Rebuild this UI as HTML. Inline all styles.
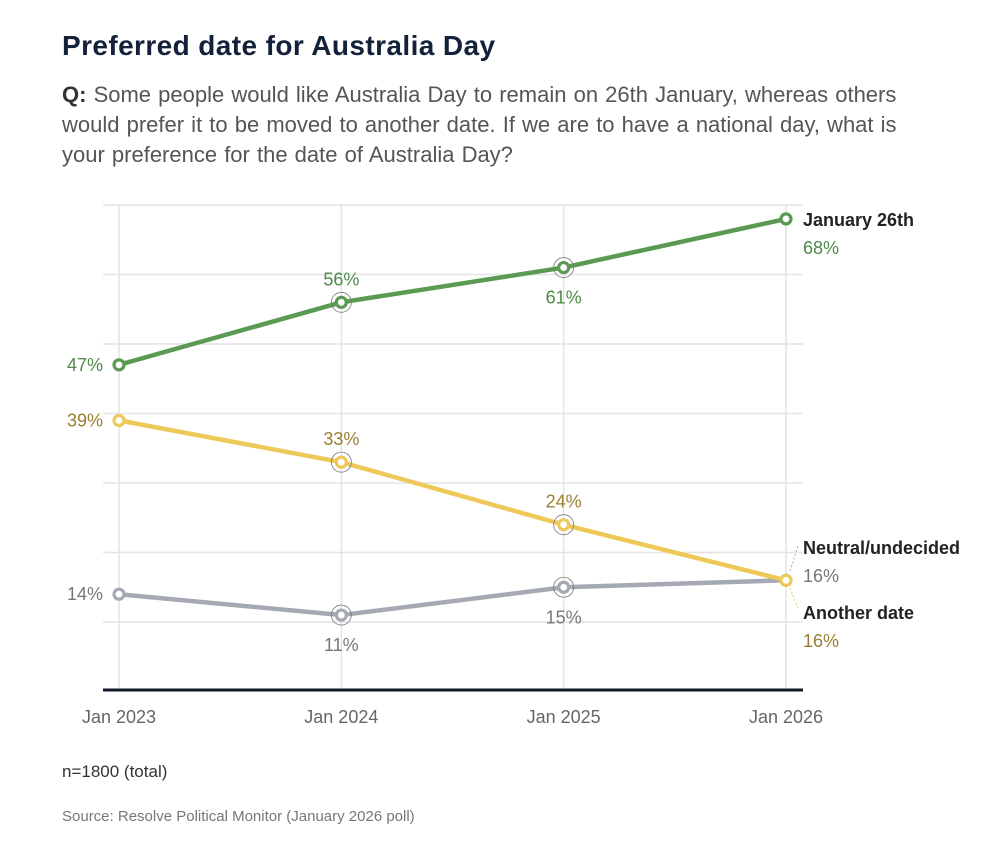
<!DOCTYPE html>
<html><head><meta charset="utf-8">
<style>
body{margin:0;background:#fff;font-family:"Liberation Sans","DejaVu Sans",sans-serif;}
.wrap{position:relative;width:1007px;height:844px;overflow:hidden}
h1{position:absolute;left:62px;top:30px;margin:0;font-size:28px;font-weight:bold;color:#14213a;letter-spacing:0.4px}
.sub{position:absolute;left:62px;top:80px;width:850px;margin:0;font-size:22px;line-height:30px;color:#555;word-spacing:1px}
.sub b{color:#333}
.note{position:absolute;left:62px;top:762px;font-size:17px;color:#333}
.src{position:absolute;left:62px;top:808px;font-size:15px;color:#777}
svg{position:absolute;left:0;top:0}
</style></head><body>
<div class="wrap">
<h1>Preferred date for Australia Day</h1>
<p class="sub"><b>Q:</b> Some people would like Australia Day to remain on 26th January, whereas others would prefer it to be moved to another date. If we are to have a national day, what is your preference for the date of Australia Day?</p>
<svg id="chart" width="1007" height="844"></svg>
<div class="note">n=1800 (total)</div>
<div class="src">Source: Resolve Political Monitor (January 2026 poll)</div>
</div>
<script>
const categories=["Jan 2023","Jan 2024","Jan 2025","Jan 2026"];
const january26=[47,56,61,68];
const anotherDate=[39,33,24,16];
const neutral=[14,11,15,16];
const yTicks=[0,10,20,30,40,50,60,70];

const NS="http://www.w3.org/2000/svg";
const svg=document.getElementById('chart');
const x0=119,x1=786,yBase=691.5,pxPer=6.95;
function xs(i){return x0+i*(x1-x0)/(categories.length-1);}
function ys(v){return yBase-v*pxPer;}
function mk(tag,attrs,parent){const e=document.createElementNS(NS,tag);for(const k in attrs)e.setAttribute(k,attrs[k]);(parent||svg).appendChild(e);return e;}

yTicks.forEach(t=>{if(t===0)return;
 const g=mk('line',{x1:103,x2:803,y1:ys(t),y2:ys(t),stroke:'#e4e4e4','stroke-width':1.5});
 
 
});
categories.forEach((c,i)=>{
 const g=mk('line',{x1:xs(i),x2:xs(i),y1:ys(70),y2:690,stroke:'#e4e4e4','stroke-width':1.5});
 
 
 const t=mk('text',{x:xs(i),y:723,'text-anchor':'middle','font-size':18,fill:'#666'});
 t.textContent=c;
 
 
});
const base=mk('line',{x1:103,x2:803,y1:690,y2:690,stroke:'#111827','stroke-width':3});



const series=[
 {name:'neutral',vals:neutral,color:'#a5a9b3',text:'#777',pos:['left','below','below',null]},
 {name:'another-date',vals:anotherDate,color:'#eec95a',text:'#9a7f30',pos:['left','above','above',null]},
 {name:'january-26th',vals:january26,color:'#5b9a53',text:'#4f8a48',pos:['left','above','below',null]}
];
series.forEach(s=>{
 const pts=s.vals.map((v,i)=>xs(i)+','+ys(v)).join(' ');
 const l=mk('polyline',{points:pts,fill:'none',stroke:s.color,'stroke-width':4.5,'stroke-linejoin':'round'});
 
 
 s.vals.forEach((v,i)=>{
  if(i===1||i===2){
   const h=mk('circle',{cx:xs(i),cy:ys(v),r:10,fill:'none',stroke:'#777','stroke-width':0.8});
   
   
  }
  const c=mk('circle',{cx:xs(i),cy:ys(v),r:5,fill:'#fff',stroke:s.color,'stroke-width':3.2});
  
  
  const p=s.pos[i];
  if(!p)return;
  let tx=xs(i),ty=ys(v),anchor='middle';
  if(p==='left'){tx-=16;ty+=6;anchor='end';}
  else if(p==='above'){ty-=17;}
  else {ty+=36;}
  const t=mk('text',{x:tx,y:ty,'text-anchor':anchor,'font-size':18,fill:s.text});
  t.textContent=v+'%';
  
  
 });
});
const lx=803;
function endLabel(name,val,ly,color,dname){
 const a=mk('text',{x:lx,y:ly,'font-size':18,'font-weight':'bold',fill:'#222'});
 a.textContent=name;
 
 
 const b=mk('text',{x:lx,y:ly+28,'font-size':18,fill:color});
 b.textContent=val+'%';
 
 
}
endLabel('January 26th',january26[3],226,'#4f8a48','january-26th');
endLabel('Neutral/undecided',neutral[3],554,'#777','neutral');
endLabel('Another date',anotherDate[3],619,'#9a7f30','another-date');
const d1=mk('line',{x1:790,y1:571,x2:798,y2:546,stroke:'#a5a9b3','stroke-width':1,'stroke-dasharray':'2,2'});


const d2=mk('line',{x1:790,y1:588,x2:798,y2:608,stroke:'#eec95a','stroke-width':1,'stroke-dasharray':'2,2'});


</script>
</body></html>
